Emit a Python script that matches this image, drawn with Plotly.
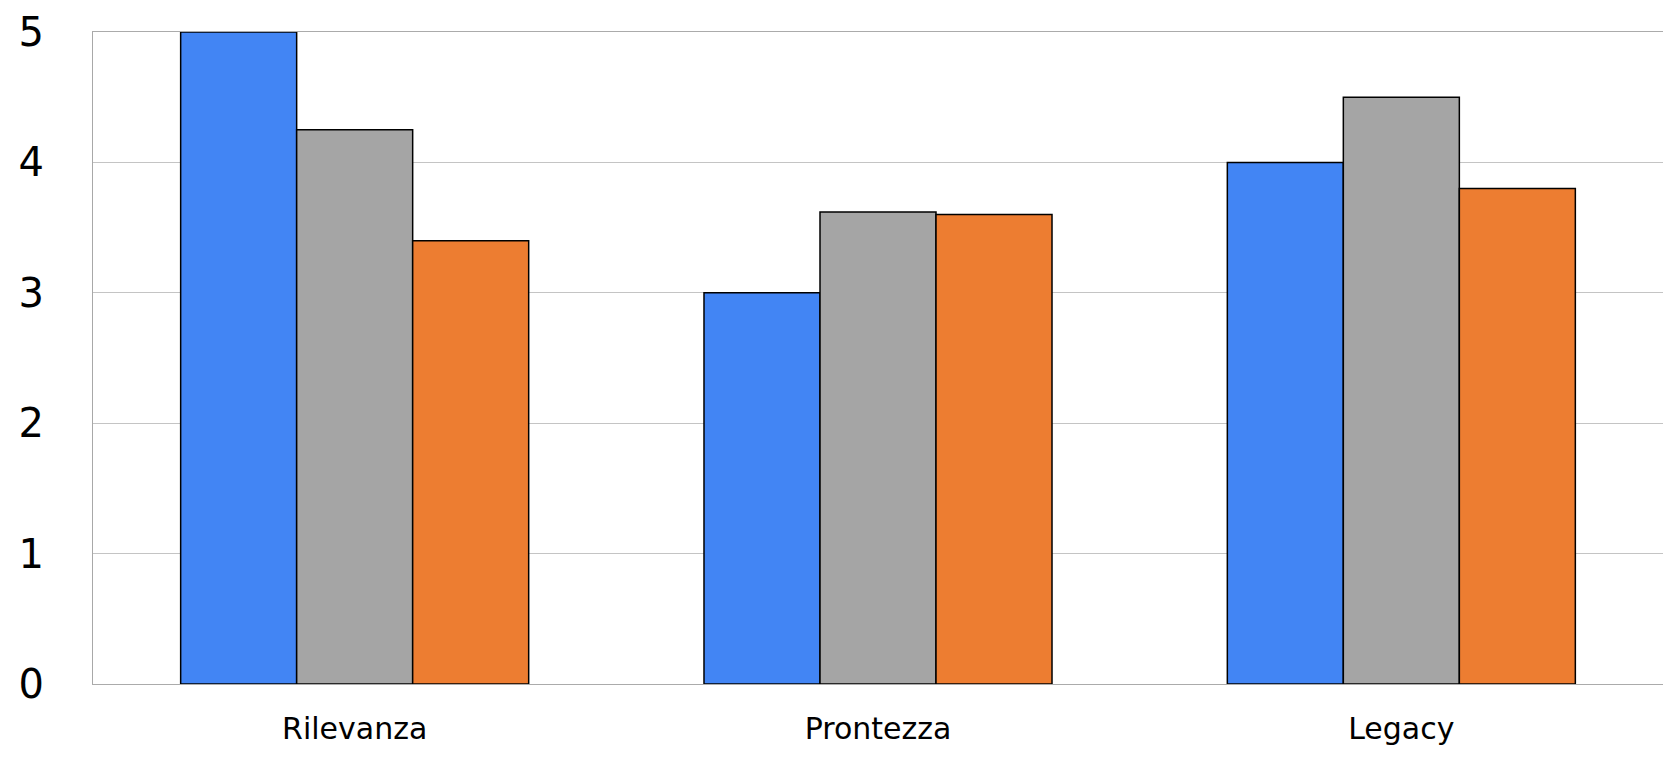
import plotly.graph_objects as go

categories = ["Rilevanza", "Prontezza", "Legacy"]
series_names = ["Serie 1", "Serie 2", "Serie 3"]
serie1 = [5.0, 3.0, 4.0]
serie2 = [4.25, 3.62, 4.5]
serie3 = [3.4, 3.6, 3.8]
colors = ["#4285F4", "#A5A5A5", "#ED7D31"]
y_ticks = [0, 1, 2, 3, 4, 5]

fig = go.Figure()
for name, vals, col in zip(series_names, [serie1, serie2, serie3], colors):
    fig.add_trace(go.Bar(
        x=categories, y=vals, name=name,
        marker=dict(color=col, line=dict(color="#000000", width=1.5)),
    ))

fig.update_layout(
    width=1655, height=741,
    margin=dict(l=85, r=0, t=24, b=65, autoexpand=False),
    barmode="group", bargap=0.335, bargroupgap=0,
    showlegend=False,
    plot_bgcolor="white", paper_bgcolor="white",
    font=dict(family="DejaVu Sans", color="#000000"),
)
fig.update_xaxes(
    showgrid=False, showline=True, mirror=True, linecolor="#ababab", linewidth=1.4,
    tickfont=dict(size=30, family="DejaVu Sans"), ticks="", ticklabelstandoff=18,
    automargin=False,
)
fig.update_yaxes(
    range=[0, 5], tickvals=y_ticks, showgrid=True, gridcolor="#c4c4c4", gridwidth=1.3,
    showline=True, linecolor="#a8a8a8", linewidth=1.3, zeroline=False,
    tickfont=dict(size=40, family="DejaVu Sans"), ticks="", ticklabelstandoff=40,
    automargin=False,
)

fig.write_html("out.html")
